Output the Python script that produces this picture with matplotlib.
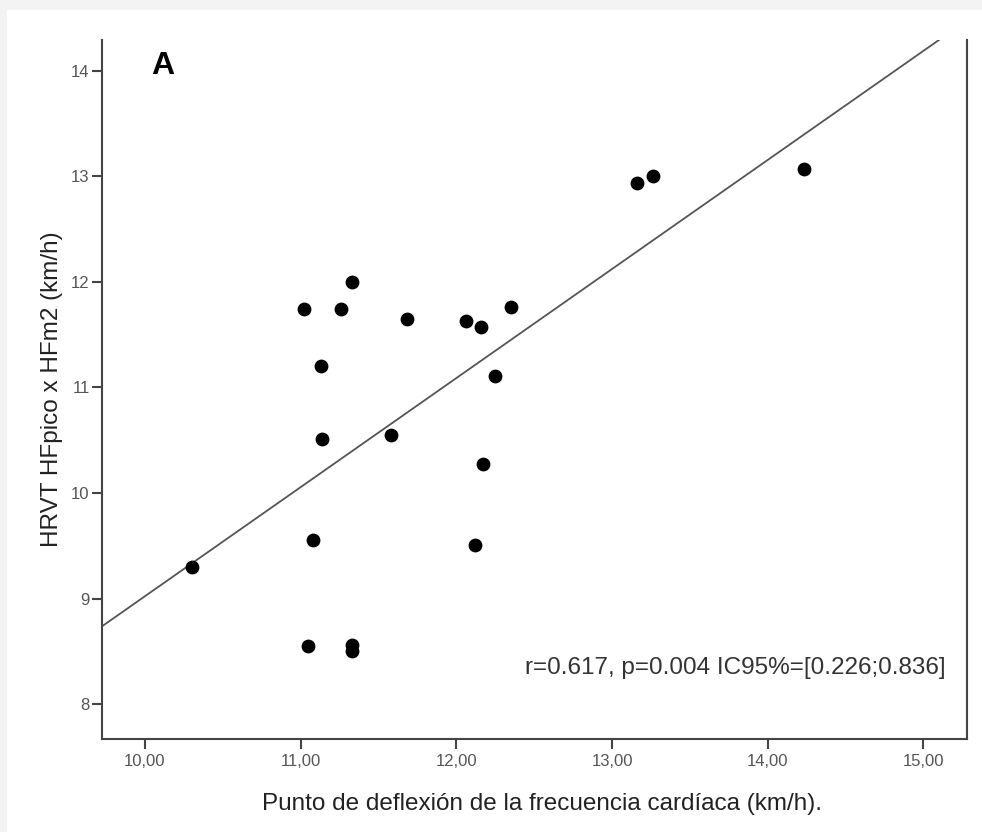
import numpy as np
import matplotlib
matplotlib.use("Agg")
import matplotlib.pyplot as plt
from matplotlib.patches import Rectangle

# punto de deflexion (x) vs HRVT HFpico x HFm2 (y)
pdfc = [10.30, 11.05, 11.33, 11.33, 11.33, 11.02, 11.26, 11.68, 12.06, 12.16, 12.35,
        11.13, 12.25, 11.14, 11.58, 12.17, 11.08, 12.12, 13.16, 13.26, 14.23]
hrvt = [9.30, 8.55, 8.56, 8.50, 12.00, 11.74, 11.74, 11.65, 11.63, 11.57, 11.76,
        11.20, 11.11, 10.51, 10.55, 10.27, 9.55, 9.51, 12.94, 13.00, 13.07]

x_ticks = [10, 11, 12, 13, 14, 15]
y_ticks = [8, 9, 10, 11, 12, 13, 14]
stats_text = "r=0.617, p=0.004 IC95%=[0.226;0.836]"

plt.rcParams['font.family'] = ['Liberation Sans', 'DejaVu Sans']

fig = plt.figure(figsize=(9.82, 8.32), dpi=100, facecolor='#f3f3f3')
bg = Rectangle((7 / 982, 0), 1, 1 - 10 / 832, transform=fig.transFigure,
               facecolor='white', edgecolor='none', zorder=-10)
fig.add_artist(bg)

ax = fig.add_axes([102 / 982, 1 - 739 / 832, 865 / 982, 699 / 832])
ax.set_facecolor('white')

ax.scatter(pdfc, hrvt, s=80, color='black', zorder=3)

xlim = (9.724, 15.28)
ylim = (7.67, 14.29)
slope, intercept = np.polyfit(pdfc, hrvt, 1)
xs = np.array(xlim)
ax.plot(xs, intercept + slope * xs, color='#555555', lw=1.3, zorder=2)

ax.set_xlim(*xlim)
ax.set_ylim(*ylim)
ax.set_xticks(x_ticks)
ax.set_xticklabels([f"{v:.2f}".replace('.', ',') for v in x_ticks])
ax.set_yticks(y_ticks)
ax.set_yticklabels([str(v) for v in y_ticks])

for side in ['left', 'right', 'bottom']:
    ax.spines[side].set_color('#444444')
    ax.spines[side].set_linewidth(1.5)
ax.spines['top'].set_visible(False)

ax.tick_params(axis='both', direction='out', length=7, width=1.5, color='#444444',
               labelsize=12, labelcolor='#555555', pad=2)
ax.tick_params(axis='x', pad=4)

ax.set_xlabel("Punto de deflexión de la frecuencia cardíaca (km/h).", fontsize=17.5,
              color='#222222')
ax.xaxis.set_label_coords(0.509, -0.077)
ax.set_ylabel("HRVT HFpico x HFm2 (km/h)", fontsize=17.5, color='#222222', labelpad=6)

ax.text(0.0705, 0.963, "A", transform=ax.transAxes, fontsize=23, fontweight='bold',
        ha='center', va='center', color='black')
ax.text(0.975, 0.1016, stats_text, transform=ax.transAxes, fontsize=17.5,
        ha='right', va='center', color='#333333')

fig.savefig("out.png", dpi=100, facecolor=fig.get_facecolor())
